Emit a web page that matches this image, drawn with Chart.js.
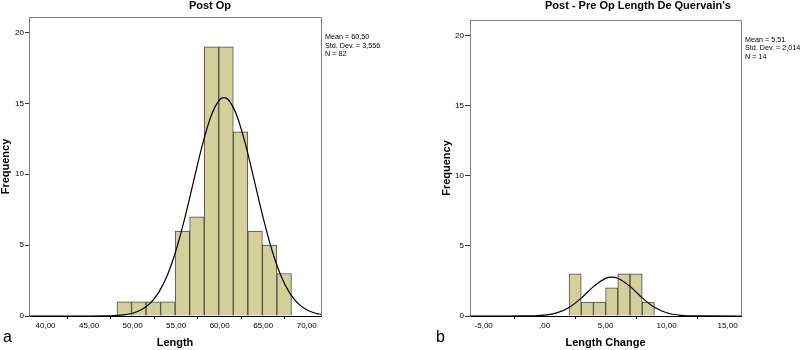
<!DOCTYPE html>
<html>
<head>
<meta charset="utf-8">
<script src="https://cdn.jsdelivr.net/npm/chart.js@4"></script>
<style>
  body { margin: 0; background: #fff; font-family: "Liberation Sans", Arial, sans-serif; color: #000; }
  #wrap { position: relative; width: 800px; height: 350px; overflow: hidden; }
  canvas { position: absolute; top: 0; }
  .title { position: absolute; top: 0; font-weight: bold; font-size: 11px; line-height: 11px; text-align: center; white-space: nowrap; }
  .stats { position: absolute; font-size: 7.2px; line-height: 8.7px; white-space: nowrap; }
  .panel { position: absolute; font-size: 16px; line-height: 16px; }
</style>
</head>
<body>
<div id="wrap">
  <canvas id="postop" width="400" height="350" style="left:0"></canvas>
  <canvas id="change" width="400" height="350" style="left:400px"></canvas>
  <div class="title" style="left:10px;width:400px">Post Op</div>
  <div class="title" style="left:438px;width:400px">Post - Pre Op Length De Quervain's</div>
  <div class="stats" style="left:325px;top:33px">Mean = 60,50<br>Std. Dev. = 3,556<br>N = 82</div>
  <div class="stats" style="left:745px;top:35.5px">Mean = 5,51<br>Std. Dev. = 2,014<br>N = 14</div>
  <div class="panel" style="left:3px;top:329px">a</div>
  <div class="panel" style="left:436px;top:329px">b</div>
</div>
<script>
// panel a - post op length
const postOpBinCenters = [49.04, 50.71, 52.38, 54.05, 55.72, 57.39, 59.06, 60.73, 62.40, 64.07, 65.74, 67.41];
const postOpCounts = [1, 1, 1, 1, 6, 7, 19, 19, 13, 6, 5, 3];
const postOpCurveX = [38.1, 42, 45, 47, 48, 49, 50, 51, 52, 53, 54, 55, 56, 57, 58, 59, 60, 60.5, 61, 62, 63, 64, 65, 66, 67, 68, 69, 70, 71, 71.64];
const postOpCurveY = [0, 0, 0.001, 0.011, 0.032, 0.083, 0.197, 0.434, 0.886, 1.667, 2.90, 4.66, 6.92, 9.50, 12.04, 14.10, 15.26, 15.41, 15.26, 14.10, 12.04, 9.50, 6.92, 4.66, 2.90, 1.667, 0.886, 0.434, 0.197, 0.118];
const postOpTickValues = [40, 45, 50, 55, 60, 65, 70];
const postOpTickLabels = ['40,00', '45,00', '50,00', '55,00', '60,00', '65,00', '70,00'];

// panel b - length change
const changeBinCenters = [2.5, 3.5, 4.5, 5.5, 6.5, 7.5, 8.5];
const changeCounts = [3, 1, 1, 2, 3, 3, 1];
const changeCurveX = [-6.12, -3, -2, -1, 0, 1, 2, 3, 4, 5, 5.51, 6, 7, 8, 9, 10, 11, 12, 13, 16.1];
const changeCurveY = [0, 0, 0.003, 0.015, 0.066, 0.226, 0.607, 1.275, 2.094, 2.685, 2.773, 2.692, 2.110, 1.292, 0.618, 0.231, 0.068, 0.015, 0.003, 0];
const changeTickValues = [-5, 0, 5, 10, 15];
const changeTickLabels = ['-5,00', ',00', '5,00', '10,00', '15,00'];

const freqTickValues = [0, 5, 10, 15, 20];

Chart.defaults.font.family = '"Liberation Sans", Arial, sans-serif';
Chart.defaults.color = '#000';

// top and right edges of the plot frame
const framePlugin = {
  id: 'frame',
  beforeDatasetsDraw(chart) {
    const {ctx, chartArea: a} = chart;
    ctx.save();
    ctx.strokeStyle = '#808080';
    ctx.lineWidth = 1;
    ctx.beginPath();
    ctx.moveTo(Math.round(a.left) + 0.5, Math.round(a.top) + 0.5);
    ctx.lineTo(Math.round(a.right) + 0.5, Math.round(a.top) + 0.5);
    ctx.lineTo(Math.round(a.right) + 0.5, Math.round(a.bottom));
    ctx.stroke();
    ctx.restore();
  }
};

function drawHistogram(id, o) {
  const ctx = document.getElementById(id).getContext('2d');
  return new Chart(ctx, {
    type: 'bar',
    data: {
      datasets: [{
        type: 'line',
        order: 0,
        data: o.curveX.map((x, i) => ({x: x, y: o.curveY[i]})),
        borderColor: '#000',
        borderWidth: 1.2,
        pointRadius: 0,
        cubicInterpolationMode: 'monotone',
        fill: false
      }, {
        type: 'bar',
        order: 1,
        data: o.centers.map((x, i) => ({x: x, y: o.counts[i]})),
        backgroundColor: 'rgb(212,208,155)',
        borderColor: '#4d4d45',
        borderWidth: 1,
        barPercentage: 1,
        categoryPercentage: 1
      }]
    },
    options: {
      responsive: false,
      animation: false,
      devicePixelRatio: 1,
      layout: {padding: o.padding},
      plugins: {legend: {display: false}, tooltip: {enabled: false}},
      scales: {
        x: {
          type: 'linear',
          min: o.xMin,
          max: o.xMax,
          offset: false,
          afterBuildTicks: s => { s.ticks = o.tickValues.map(v => ({value: v})); },
          afterFit: s => { s.height = 34; },
          grid: {drawOnChartArea: false, drawTicks: true, tickLength: 3, color: '#000'},
          border: {display: true, color: '#000', width: 1},
          ticks: {
            font: {size: 8},
            padding: 2,
            maxRotation: 0,
            autoSkip: false,
            callback: (v, i) => o.tickLabels[i]
          },
          title: {display: true, text: o.xTitle, font: {size: 11, weight: 'bold'}, padding: 0}
        },
        y: {
          type: 'linear',
          min: 0,
          max: 21.1,
          afterBuildTicks: s => { s.ticks = freqTickValues.map(v => ({value: v})); },
          afterFit: s => { s.width = o.yWidth; },
          grid: {drawOnChartArea: false, drawTicks: true, tickLength: o.yTick, color: '#333'},
          border: {display: true, color: '#808080', width: 1},
          ticks: {font: {size: 8}, padding: 1, callback: v => String(v)},
          title: {display: true, text: 'Frequency', font: {size: 11, weight: 'bold', lineHeight: 1}, padding: 0}
        }
      }
    },
    plugins: [framePlugin]
  });
}

drawHistogram('postop', {
  centers: postOpBinCenters, counts: postOpCounts,
  curveX: postOpCurveX, curveY: postOpCurveY,
  tickValues: postOpTickValues, tickLabels: postOpTickLabels,
  xMin: 38.1, xMax: 71.64, xTitle: 'Length',
  padding: {left: 0, top: 17, right: 79, bottom: 0},
  yWidth: 29, yTick: 4
});

drawHistogram('change', {
  centers: changeBinCenters, counts: changeCounts,
  curveX: changeCurveX, curveY: changeCurveY,
  tickValues: changeTickValues, tickLabels: changeTickLabels,
  xMin: -6.12, xMax: 16.1, xTitle: 'Length Change',
  padding: {left: 41, top: 20, right: 59, bottom: 0},
  yWidth: 29, yTick: 5
});
</script>
</body>
</html>
